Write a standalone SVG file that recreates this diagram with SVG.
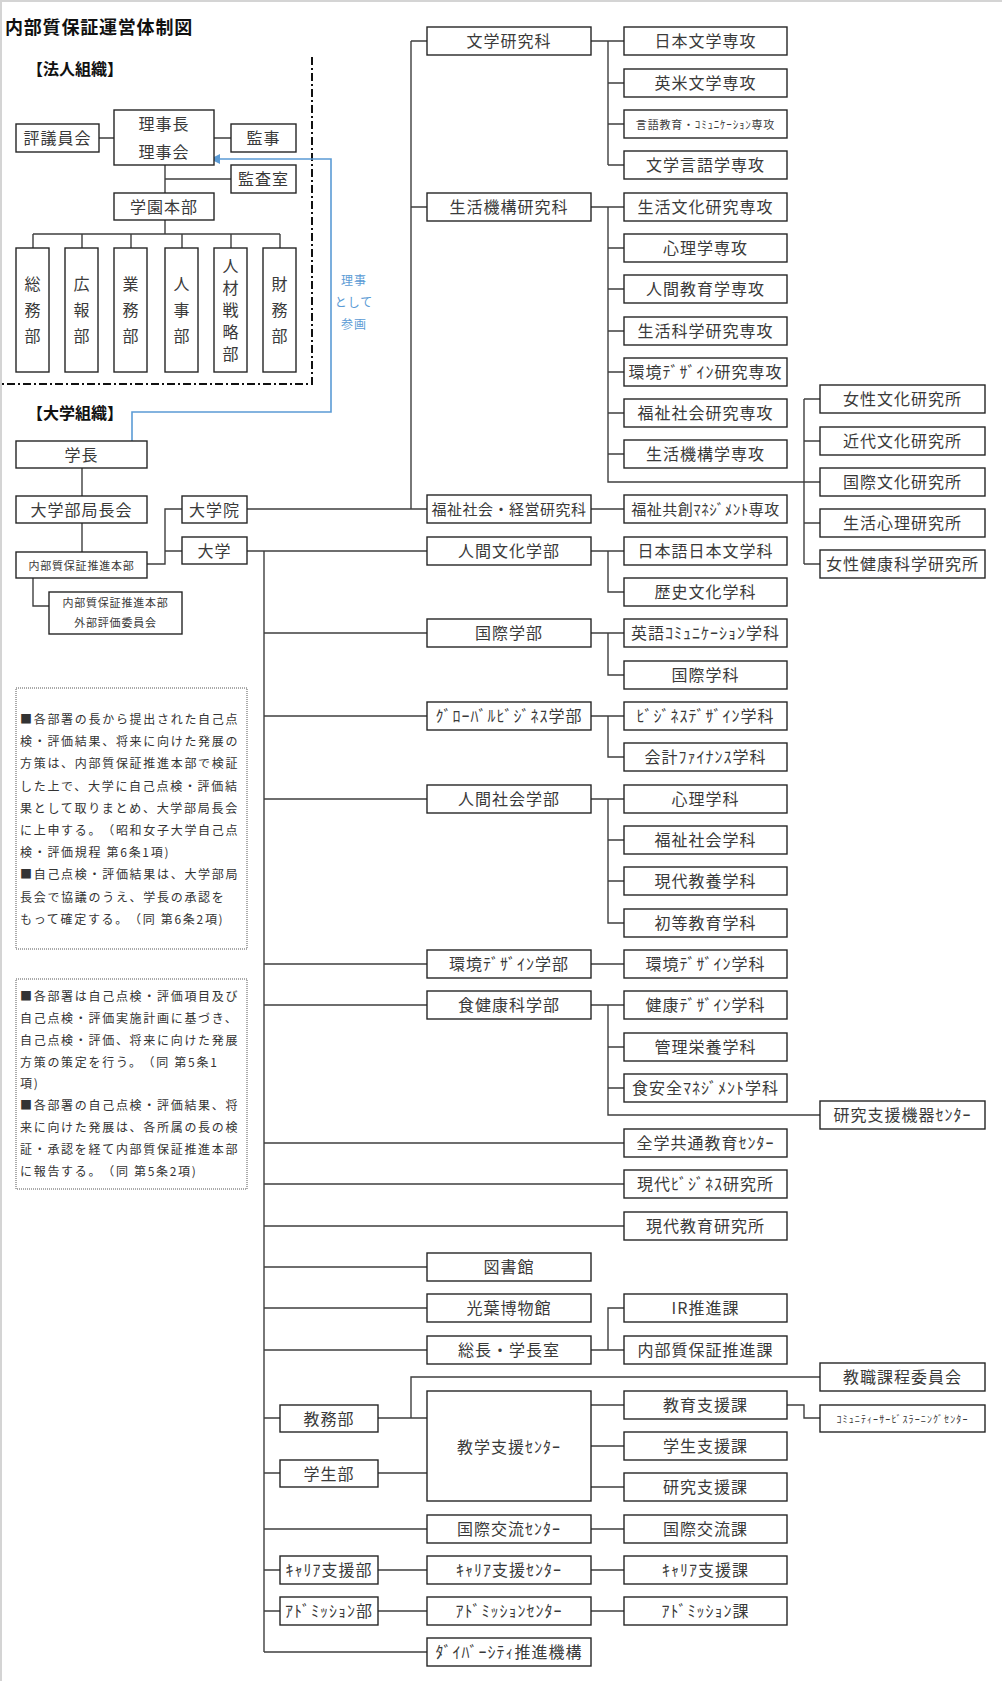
<svg xmlns="http://www.w3.org/2000/svg" width="1002" height="1681" viewBox="0 0 1002 1681">
<style>
text{text-spacing-trim:space-all}
.bx{fill:#fff;stroke:#262626;stroke-width:1.4}
.lb{font-family:"Noto Sans CJK JP","Noto Sans",sans-serif;font-size:16px;letter-spacing:1px;fill:#3a3a3a;text-anchor:middle;dominant-baseline:central}
.sm{font-size:11px;letter-spacing:0.8px}
.md{font-size:15px;letter-spacing:0.5px}
.xs{font-size:10px;letter-spacing:1.1px}
.hd{font-family:"Noto Sans CJK JP","Noto Sans",sans-serif;font-weight:bold;fill:#111;dominant-baseline:central}
.note{font-family:"Noto Sans CJK JP","Noto Sans",sans-serif;font-size:12px;letter-spacing:1.7px;fill:#333;dominant-baseline:central}
.nb{fill:#fff;stroke:#555;stroke-width:1;stroke-dasharray:1,1}
.cn{fill:none;stroke:#3f3f3f;stroke-width:1.4}
.bl{fill:none;stroke:#5b9bd5;stroke-width:1.6}
.bt{font-family:"Noto Sans CJK JP","Noto Sans",sans-serif;font-size:12px;letter-spacing:1px;fill:#5b9bd5;text-anchor:middle;dominant-baseline:central}
</style>
<defs>
<marker id="arr" markerUnits="userSpaceOnUse" markerWidth="12" markerHeight="10" refX="10" refY="5" orient="auto">
<path d="M0,0 L10,5 L0,10 Z" fill="#5b9bd5"/>
</marker>
</defs>
<rect x="0" y="0" width="1002" height="1681" fill="#fff"/>
<path d="M1,1681 V1 H1002" fill="none" stroke="#d4d4d4" stroke-width="2"/>

<text class="hd" x="5" y="26" style="font-size:18px;letter-spacing:0.8px">内部質保証運営体制図</text>
<text class="hd" x="27" y="68" style="font-size:16px">【法人組織】</text>
<text class="hd" x="27" y="412" style="font-size:16px">【大学組織】</text>

<path d="M312,57 V384 H0" fill="none" stroke="#111" stroke-width="2" stroke-dasharray="8,3,2,3"/>

<g id="connectors">
<path class="cn" d="M99,138 H114 M214,138 H231 M165,165 V220 M165,179 H231 M165,220 V234 M33,234 H280 M33,234 V248 M82,234 V248 M131,234 V248 M182,234 V248 M231,234 V248 M280,234 V248"/>
<path class="cn" d="M82,468 V496 M82,523 V552 M33,578 V606 H49 M147,564 H165 V509 H182 M165,551 H182"/>
<path class="cn" d="M247,509 H427 M411,41 V509 M411,41 H427 M411,207 H427 M591,41 H624 M608,41 V165 M608,83 H624 M608,124 H624 M608,165 H624 M591,207 H624 M608,207 V482 H820 M608,248 H624 M608,289 H624 M608,331 H624 M608,372 H624 M608,413 H624 M608,454 H624 M804,399 V564 M804,399 H820 M804,441 H820 M804,523 H820 M804,564 H820 M591,509 H624"/>
<path class="cn" d="M247,551 H427 M264,551 V1652 M591,551 H624 M608,551 V592 H624 M264,633 H427 M591,633 H624 M608,633 V675 H624 M264,716 H427 M591,716 H624 M608,716 V757 H624 M264,799 H427 M591,799 H624 M608,799 V923 H624 M608,840 H624 M608,881 H624 M264,964 H427 M591,964 H624 M264,1005 H427 M591,1005 H624 M608,1005 V1115 H820 M608,1047 H624 M608,1088 H624 M264,1143 H624 M264,1184 H624 M264,1226 H624 M264,1267 H427 M264,1308 H427 M264,1350 H427 M591,1350 H624 M608,1350 V1308 H624"/>
<path class="cn" d="M264,1418 H280 M378,1418 H427 M411,1418 V1377 H820 M591,1405 H624 M591,1446 H624 M591,1487 H624 M787,1405 H804 V1418 H820 M264,1473 H280 M378,1473 H427 M264,1529 H427 M591,1529 H624 M264,1570 H280 M378,1570 H427 M591,1570 H624 M264,1611 H280 M378,1611 H427 M591,1611 H624 M264,1652 H427"/>
<path class="bl" d="M132,441 V412 H331 V159 H210" marker-end="url(#arr)"/>
</g>
<text class="bt"><tspan x="354" y="279">理事</tspan><tspan x="354" y="301">として</tspan><tspan x="354" y="323">参画</tspan></text>

<g id="n-hyogiin"><rect class="bx" x="16" y="124" width="83" height="28"/><text class="lb" x="57.5" y="137">評議員会</text></g>
<g id="n-rijicho"><rect class="bx" x="114" y="110" width="100" height="55"/><text class="lb"><tspan x="164" y="123">理事長</tspan><tspan x="164" y="151">理事会</tspan></text></g>
<g id="n-kanji"><rect class="bx" x="231" y="124" width="65" height="28"/><text class="lb" x="263.5" y="137">監事</text></g>
<g id="n-kansa"><rect class="bx" x="231" y="165" width="65" height="28"/><text class="lb" x="263.5" y="178">監査室</text></g>
<g id="n-gakuen"><rect class="bx" x="114" y="193" width="100" height="27"/><text class="lb" x="164" y="205.5">学園本部</text></g>
<g id="n-somu"><rect class="bx" x="16" y="248" width="33" height="124"/><text class="lb"><tspan x="33" y="283">総</tspan><tspan x="33" y="309">務</tspan><tspan x="33" y="335">部</tspan></text></g>
<g id="n-koho"><rect class="bx" x="65" y="248" width="33" height="124"/><text class="lb"><tspan x="82" y="283">広</tspan><tspan x="82" y="309">報</tspan><tspan x="82" y="335">部</tspan></text></g>
<g id="n-gyomu"><rect class="bx" x="114" y="248" width="33" height="124"/><text class="lb"><tspan x="131" y="283">業</tspan><tspan x="131" y="309">務</tspan><tspan x="131" y="335">部</tspan></text></g>
<g id="n-jinji"><rect class="bx" x="165" y="248" width="33" height="124"/><text class="lb"><tspan x="182" y="283">人</tspan><tspan x="182" y="309">事</tspan><tspan x="182" y="335">部</tspan></text></g>
<g id="n-jinzai"><rect class="bx" x="214" y="248" width="33" height="124"/><text class="lb"><tspan x="231" y="265">人</tspan><tspan x="231" y="287">材</tspan><tspan x="231" y="309">戦</tspan><tspan x="231" y="331">略</tspan><tspan x="231" y="353">部</tspan></text></g>
<g id="n-zaimu"><rect class="bx" x="263" y="248" width="33" height="124"/><text class="lb"><tspan x="280" y="283">財</tspan><tspan x="280" y="309">務</tspan><tspan x="280" y="335">部</tspan></text></g>

<g id="n-gakucho"><rect class="bx" x="16" y="441" width="131" height="27"/><text class="lb" x="81.5" y="453.5">学長</text></g>
<g id="n-bukyoku"><rect class="bx" x="16" y="496" width="131" height="27"/><text class="lb" x="81.5" y="508.5">大学部局長会</text></g>
<g id="n-naibu"><rect class="bx" x="16" y="552" width="131" height="26"/><text class="lb sm" x="81.5" y="564.5">内部質保証推進本部</text></g>
<g id="n-gaibu"><rect class="bx" x="49" y="592" width="133" height="42"/><text class="lb sm"><tspan x="115.5" y="602">内部質保証推進本部</tspan><tspan x="115.5" y="622">外部評価委員会</tspan></text></g>
<g id="n-daigakuin"><rect class="bx" x="182" y="496" width="65" height="27"/><text class="lb" x="214.5" y="508.5">大学院</text></g>
<g id="n-daigaku"><rect class="bx" x="182" y="537" width="65" height="27"/><text class="lb" x="214.5" y="549.5">大学</text></g>

<g id="note1"><rect class="nb" x="16" y="688" width="231" height="261"/><text class="note"><tspan x="20" y="718">■各部署の長から提出された自己点</tspan><tspan x="20" y="740">検・評価結果、将来に向けた発展の</tspan><tspan x="20" y="762">方策は、内部質保証推進本部で検証</tspan><tspan x="20" y="785">した上で、大学に自己点検・評価結</tspan><tspan x="20" y="807">果として取りまとめ、大学部局長会</tspan><tspan x="20" y="829">に上申する。（昭和女子大学自己点</tspan><tspan x="20" y="851">検・評価規程 第6条1項)</tspan><tspan x="20" y="873">■自己点検・評価結果は、大学部局</tspan><tspan x="20" y="896">長会で協議のうえ、学長の承認を</tspan><tspan x="20" y="918">もって確定する。（同 第6条2項)</tspan></text></g>
<g id="note2"><rect class="nb" x="16" y="979" width="231" height="210"/><text class="note"><tspan x="20" y="995">■各部署は自己点検・評価項目及び</tspan><tspan x="20" y="1017">自己点検・評価実施計画に基づき、</tspan><tspan x="20" y="1039">自己点検・評価、将来に向けた発展</tspan><tspan x="20" y="1061">方策の策定を行う。（同 第5条1</tspan><tspan x="20" y="1082">項)</tspan><tspan x="20" y="1104">■各部署の自己点検・評価結果、将</tspan><tspan x="20" y="1126">来に向けた発展は、各所属の長の検</tspan><tspan x="20" y="1148">証・承認を経て内部質保証推進本部</tspan><tspan x="20" y="1170">に報告する。（同 第5条2項)</tspan></text></g>

<g id="n-bungaku-k"><rect class="bx" x="427" y="27" width="164" height="28"/><text class="lb" x="509" y="40">文学研究科</text></g>
<g id="n-nihonbun-s"><rect class="bx" x="624" y="27" width="163" height="28"/><text class="lb" x="705.5" y="40">日本文学専攻</text></g>
<g id="n-eibei-s"><rect class="bx" x="624" y="69" width="163" height="28"/><text class="lb" x="705.5" y="82">英米文学専攻</text></g>
<g id="n-gengo-s"><rect class="bx" x="624" y="110" width="163" height="28"/><text class="lb sm" x="705.5" y="123.5">言語教育・ｺﾐｭﾆｹｰｼｮﾝ専攻</text></g>
<g id="n-bungengo-s"><rect class="bx" x="624" y="151" width="163" height="28"/><text class="lb" x="705.5" y="164">文学言語学専攻</text></g>
<g id="n-seikatsu-k"><rect class="bx" x="427" y="193" width="164" height="28"/><text class="lb" x="509" y="206">生活機構研究科</text></g>
<g id="n-seibun-s"><rect class="bx" x="624" y="193" width="163" height="28"/><text class="lb" x="705.5" y="206">生活文化研究専攻</text></g>
<g id="n-shinri-s"><rect class="bx" x="624" y="234" width="163" height="28"/><text class="lb" x="705.5" y="247">心理学専攻</text></g>
<g id="n-ningen-s"><rect class="bx" x="624" y="275" width="163" height="28"/><text class="lb" x="705.5" y="288">人間教育学専攻</text></g>
<g id="n-seikagaku-s"><rect class="bx" x="624" y="317" width="163" height="28"/><text class="lb" x="705.5" y="330">生活科学研究専攻</text></g>
<g id="n-kankyo-s"><rect class="bx" x="624" y="358" width="163" height="28"/><text class="lb" x="705.5" y="371">環境ﾃﾞｻﾞｲﾝ研究専攻</text></g>
<g id="n-fukushi-s"><rect class="bx" x="624" y="399" width="163" height="28"/><text class="lb" x="705.5" y="412">福祉社会研究専攻</text></g>
<g id="n-kikou-s"><rect class="bx" x="624" y="440" width="163" height="28"/><text class="lb" x="705.5" y="453">生活機構学専攻</text></g>
<g id="n-fukukei-k"><rect class="bx" x="427" y="495" width="164" height="28"/><text class="lb md" x="509" y="508">福祉社会・経営研究科</text></g>
<g id="n-fukuso-s"><rect class="bx" x="624" y="495" width="163" height="28"/><text class="lb md" x="705.5" y="508">福祉共創ﾏﾈｼﾞﾒﾝﾄ専攻</text></g>

<g id="n-josei-i"><rect class="bx" x="820" y="385" width="165" height="28"/><text class="lb" x="902.5" y="398">女性文化研究所</text></g>
<g id="n-kindai-i"><rect class="bx" x="820" y="427" width="165" height="28"/><text class="lb" x="902.5" y="440">近代文化研究所</text></g>
<g id="n-kokusai-i"><rect class="bx" x="820" y="468" width="165" height="28"/><text class="lb" x="902.5" y="481">国際文化研究所</text></g>
<g id="n-seishin-i"><rect class="bx" x="820" y="509" width="165" height="28"/><text class="lb" x="902.5" y="522">生活心理研究所</text></g>
<g id="n-kenko-i"><rect class="bx" x="820" y="550" width="165" height="28"/><text class="lb" x="902.5" y="563">女性健康科学研究所</text></g>

<g id="n-ningenbunka"><rect class="bx" x="427" y="537" width="164" height="28"/><text class="lb" x="509" y="550">人間文化学部</text></g>
<g id="n-nihongo"><rect class="bx" x="624" y="537" width="163" height="28"/><text class="lb" x="705.5" y="550">日本語日本文学科</text></g>
<g id="n-rekishi"><rect class="bx" x="624" y="578" width="163" height="28"/><text class="lb" x="705.5" y="591">歴史文化学科</text></g>
<g id="n-kokusaigakubu"><rect class="bx" x="427" y="619" width="164" height="28"/><text class="lb" x="509" y="632">国際学部</text></g>
<g id="n-eigo"><rect class="bx" x="624" y="619" width="163" height="28"/><text class="lb" x="705.5" y="632">英語ｺﾐｭﾆｹｰｼｮﾝ学科</text></g>
<g id="n-kokusaigakka"><rect class="bx" x="624" y="661" width="163" height="28"/><text class="lb" x="705.5" y="674">国際学科</text></g>
<g id="n-global"><rect class="bx" x="427" y="702" width="164" height="28"/><text class="lb" x="509" y="715">ｸﾞﾛｰﾊﾞﾙﾋﾞｼﾞﾈｽ学部</text></g>
<g id="n-bizdesign"><rect class="bx" x="624" y="702" width="163" height="28"/><text class="lb" x="705.5" y="715">ﾋﾞｼﾞﾈｽﾃﾞｻﾞｲﾝ学科</text></g>
<g id="n-kaikei"><rect class="bx" x="624" y="743" width="163" height="28"/><text class="lb" x="705.5" y="756">会計ﾌｧｲﾅﾝｽ学科</text></g>
<g id="n-ningenshakai"><rect class="bx" x="427" y="785" width="164" height="28"/><text class="lb" x="509" y="798">人間社会学部</text></g>
<g id="n-shinrigakka"><rect class="bx" x="624" y="785" width="163" height="28"/><text class="lb" x="705.5" y="798">心理学科</text></g>
<g id="n-fukushigakka"><rect class="bx" x="624" y="826" width="163" height="28"/><text class="lb" x="705.5" y="839">福祉社会学科</text></g>
<g id="n-gendai"><rect class="bx" x="624" y="867" width="163" height="28"/><text class="lb" x="705.5" y="880">現代教養学科</text></g>
<g id="n-shoto"><rect class="bx" x="624" y="909" width="163" height="28"/><text class="lb" x="705.5" y="922">初等教育学科</text></g>
<g id="n-kankyogakubu"><rect class="bx" x="427" y="950" width="164" height="28"/><text class="lb" x="509" y="963">環境ﾃﾞｻﾞｲﾝ学部</text></g>
<g id="n-kankyogakka"><rect class="bx" x="624" y="950" width="163" height="28"/><text class="lb" x="705.5" y="963">環境ﾃﾞｻﾞｲﾝ学科</text></g>
<g id="n-shokukenko"><rect class="bx" x="427" y="991" width="164" height="28"/><text class="lb" x="509" y="1004">食健康科学部</text></g>
<g id="n-kenkodesign"><rect class="bx" x="624" y="991" width="163" height="28"/><text class="lb" x="705.5" y="1004">健康ﾃﾞｻﾞｲﾝ学科</text></g>
<g id="n-kanri"><rect class="bx" x="624" y="1033" width="163" height="28"/><text class="lb" x="705.5" y="1046">管理栄養学科</text></g>
<g id="n-shokuanzen"><rect class="bx" x="624" y="1074" width="163" height="28"/><text class="lb" x="705.5" y="1087">食安全ﾏﾈｼﾞﾒﾝﾄ学科</text></g>
<g id="n-kenkyukiki"><rect class="bx" x="820" y="1101" width="165" height="28"/><text class="lb" x="902.5" y="1114">研究支援機器ｾﾝﾀｰ</text></g>
<g id="n-zengaku"><rect class="bx" x="624" y="1129" width="163" height="28"/><text class="lb" x="705.5" y="1142">全学共通教育ｾﾝﾀｰ</text></g>
<g id="n-gendaibiz"><rect class="bx" x="624" y="1170" width="163" height="28"/><text class="lb" x="705.5" y="1183">現代ﾋﾞｼﾞﾈｽ研究所</text></g>
<g id="n-gendaikyoiku"><rect class="bx" x="624" y="1212" width="163" height="28"/><text class="lb" x="705.5" y="1225">現代教育研究所</text></g>
<g id="n-toshokan"><rect class="bx" x="427" y="1253" width="164" height="28"/><text class="lb" x="509" y="1266">図書館</text></g>
<g id="n-koyo"><rect class="bx" x="427" y="1294" width="164" height="28"/><text class="lb" x="509" y="1307">光葉博物館</text></g>
<g id="n-socho"><rect class="bx" x="427" y="1336" width="164" height="28"/><text class="lb" x="509" y="1349">総長・学長室</text></g>
<g id="n-ir"><rect class="bx" x="624" y="1294" width="163" height="28"/><text class="lb" x="705.5" y="1307">IR推進課</text></g>
<g id="n-naibuka"><rect class="bx" x="624" y="1336" width="163" height="28"/><text class="lb" x="705.5" y="1349">内部質保証推進課</text></g>
<g id="n-kyoshoku"><rect class="bx" x="820" y="1363" width="165" height="28"/><text class="lb" x="902.5" y="1376">教職課程委員会</text></g>
<g id="n-kyomubu"><rect class="bx" x="280" y="1405" width="98" height="27"/><text class="lb" x="329" y="1417.5">教務部</text></g>
<g id="n-kyogaku"><rect class="bx" x="427" y="1391" width="164" height="110"/><text class="lb" x="509" y="1446">教学支援ｾﾝﾀｰ</text></g>
<g id="n-kyoikushien"><rect class="bx" x="624" y="1391" width="163" height="28"/><text class="lb" x="705.5" y="1404">教育支援課</text></g>
<g id="n-csl"><rect class="bx" x="820" y="1405" width="165" height="27"/><text class="lb xs" x="902.5" y="1418">ｺﾐｭﾆﾃｨｰｻｰﾋﾞｽﾗｰﾆﾝｸﾞｾﾝﾀｰ</text></g>
<g id="n-gakuseishien"><rect class="bx" x="624" y="1432" width="163" height="28"/><text class="lb" x="705.5" y="1445">学生支援課</text></g>
<g id="n-kenkyushien"><rect class="bx" x="624" y="1473" width="163" height="28"/><text class="lb" x="705.5" y="1486">研究支援課</text></g>
<g id="n-gakuseibu"><rect class="bx" x="280" y="1460" width="98" height="27"/><text class="lb" x="329" y="1472.5">学生部</text></g>
<g id="n-kokusaikoryu-c"><rect class="bx" x="427" y="1515" width="164" height="28"/><text class="lb" x="509" y="1528">国際交流ｾﾝﾀｰ</text></g>
<g id="n-kokusaikoryu-k"><rect class="bx" x="624" y="1515" width="163" height="28"/><text class="lb" x="705.5" y="1528">国際交流課</text></g>
<g id="n-career-b"><rect class="bx" x="280" y="1556" width="98" height="28"/><text class="lb" x="329" y="1569">ｷｬﾘｱ支援部</text></g>
<g id="n-career-c"><rect class="bx" x="427" y="1556" width="164" height="28"/><text class="lb" x="509" y="1569">ｷｬﾘｱ支援ｾﾝﾀｰ</text></g>
<g id="n-career-k"><rect class="bx" x="624" y="1556" width="163" height="28"/><text class="lb" x="705.5" y="1569">ｷｬﾘｱ支援課</text></g>
<g id="n-adm-b"><rect class="bx" x="280" y="1597" width="98" height="28"/><text class="lb" x="329" y="1610">ｱﾄﾞﾐｯｼｮﾝ部</text></g>
<g id="n-adm-c"><rect class="bx" x="427" y="1597" width="164" height="28"/><text class="lb" x="509" y="1610">ｱﾄﾞﾐｯｼｮﾝｾﾝﾀｰ</text></g>
<g id="n-adm-k"><rect class="bx" x="624" y="1597" width="163" height="28"/><text class="lb" x="705.5" y="1610">ｱﾄﾞﾐｯｼｮﾝ課</text></g>
<g id="n-diversity"><rect class="bx" x="427" y="1638" width="164" height="28"/><text class="lb" x="509" y="1651">ﾀﾞｲﾊﾞｰｼﾃｨ推進機構</text></g>
</svg>
